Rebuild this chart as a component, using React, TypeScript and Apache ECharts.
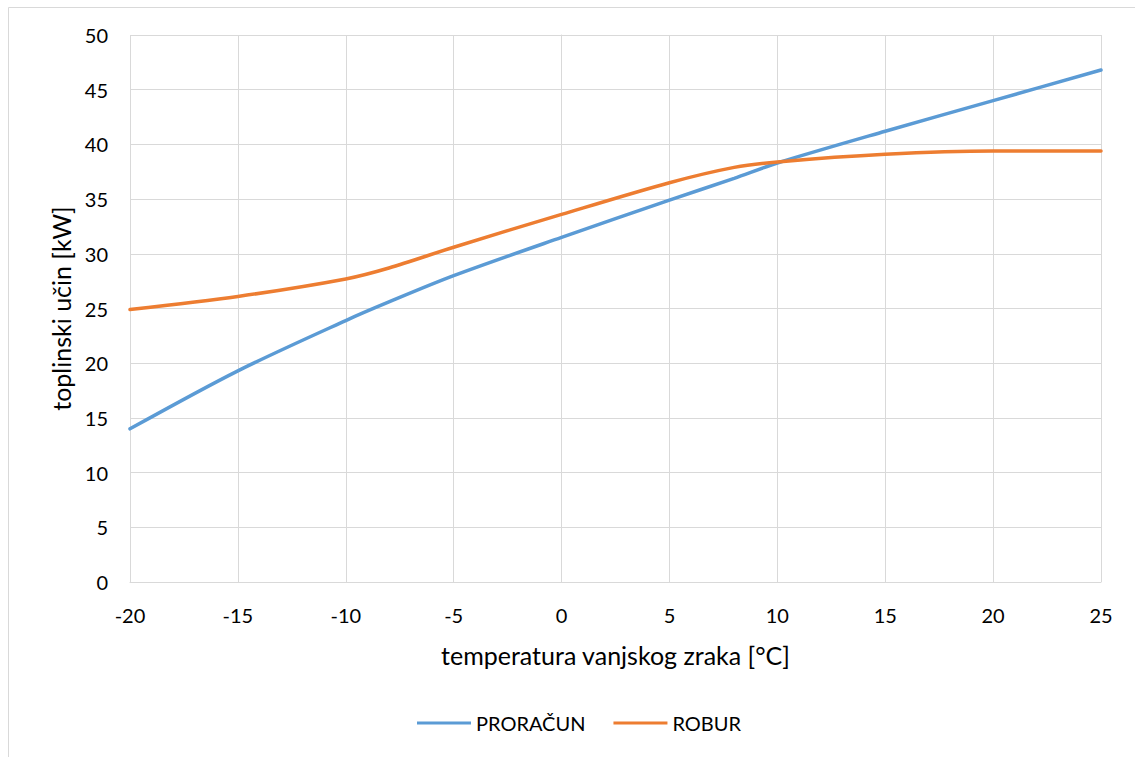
import React, { useEffect, useRef } from "react";
import * as echarts from "echarts";

const temps = [-20, -15, -10, -8, -5, 0, 5, 8, 10, 15, 20, 25];
const proracun = [14.0, 19.3, 23.9, 25.6, 28.0, 31.5, 34.9, 36.9, 38.3, 41.2, 44.0, 46.8];
const robur = [24.9, 26.1, 27.7, 28.7, 30.6, 33.6, 36.5, 37.9, 38.4, 39.1, 39.4, 39.4];
const seriesNames = ["PRORAČUN", "ROBUR"];
const xTitle = "temperatura vanjskog zraka [°C]";
const yTitle = "toplinski učin [kW]";

const FONT = "Lato, 'Open Sans', sans-serif";

export default function App() {
  const ref = useRef<HTMLDivElement>(null);
  useEffect(() => {
    if (!ref.current) return;
    const chart = echarts.init(ref.current, undefined, { renderer: "svg" });
    const pair = (vals: number[]) => temps.map((t, i) => [t, vals[i]]);
    chart.setOption({
      animation: false,
      backgroundColor: "#ffffff",
      textStyle: { fontFamily: FONT, color: "#000" },
      grid: { left: 130, right: 34, top: 35, bottom: 175 },
      graphic: [
        { type: "line", shape: { x1: 8.5, y1: 7.5, x2: 1135, y2: 7.5 }, style: { stroke: "#d9d9d9", lineWidth: 1 } },
        { type: "line", shape: { x1: 8.5, y1: 7.5, x2: 8.5, y2: 757 }, style: { stroke: "#d9d9d9", lineWidth: 1 } },
      ],
      xAxis: {
        type: "value",
        min: -20,
        max: 25,
        interval: 5,
        name: xTitle,
        nameLocation: "middle",
        nameGap: 60,
        nameTextStyle: { fontSize: 25, fontFamily: FONT, color: "#000" },
        axisLine: { show: true, lineStyle: { color: "#d9d9d9", width: 1 } },
        axisTick: { show: false },
        axisLabel: { fontSize: 20, color: "#000", margin: 23, fontFamily: FONT },
        splitLine: { show: true, lineStyle: { color: "#d9d9d9", width: 1 } },
      },
      yAxis: {
        type: "value",
        min: 0,
        max: 50,
        interval: 5,
        name: yTitle,
        nameLocation: "middle",
        nameGap: 55,
        nameRotate: 90,
        nameTextStyle: { fontSize: 25, fontFamily: FONT, color: "#000" },
        axisLine: { show: true, lineStyle: { color: "#d9d9d9", width: 1 } },
        axisTick: { show: false },
        axisLabel: { fontSize: 20, color: "#000", margin: 22, fontFamily: FONT },
        splitLine: { show: true, lineStyle: { color: "#d9d9d9", width: 1 } },
      },
      legend: {
        top: 708,
        left: 412,
        itemWidth: 54,
        itemHeight: 3,
        itemGap: 28,
        icon: "rect",
        textStyle: { fontSize: 20, color: "#000", fontFamily: FONT },
        data: seriesNames,
      },
      series: [
        {
          name: seriesNames[0],
          type: "line",
          data: pair(proracun),
          smooth: 0.3,
          symbol: "none",
          lineStyle: { color: "#5B9BD5", width: 3.5, cap: "round" },
          itemStyle: { color: "#5B9BD5" },
        },
        {
          name: seriesNames[1],
          type: "line",
          data: pair(robur),
          smooth: 0.3,
          symbol: "none",
          lineStyle: { color: "#ED7D31", width: 3.5, cap: "round" },
          itemStyle: { color: "#ED7D31" },
        },
      ],
    });
    return () => chart.dispose();
  }, []);
  return (
    <div
      ref={ref}
      style={{ position: "fixed", left: 0, top: 0, width: 1135, height: 757 }}
    />
  );
}
